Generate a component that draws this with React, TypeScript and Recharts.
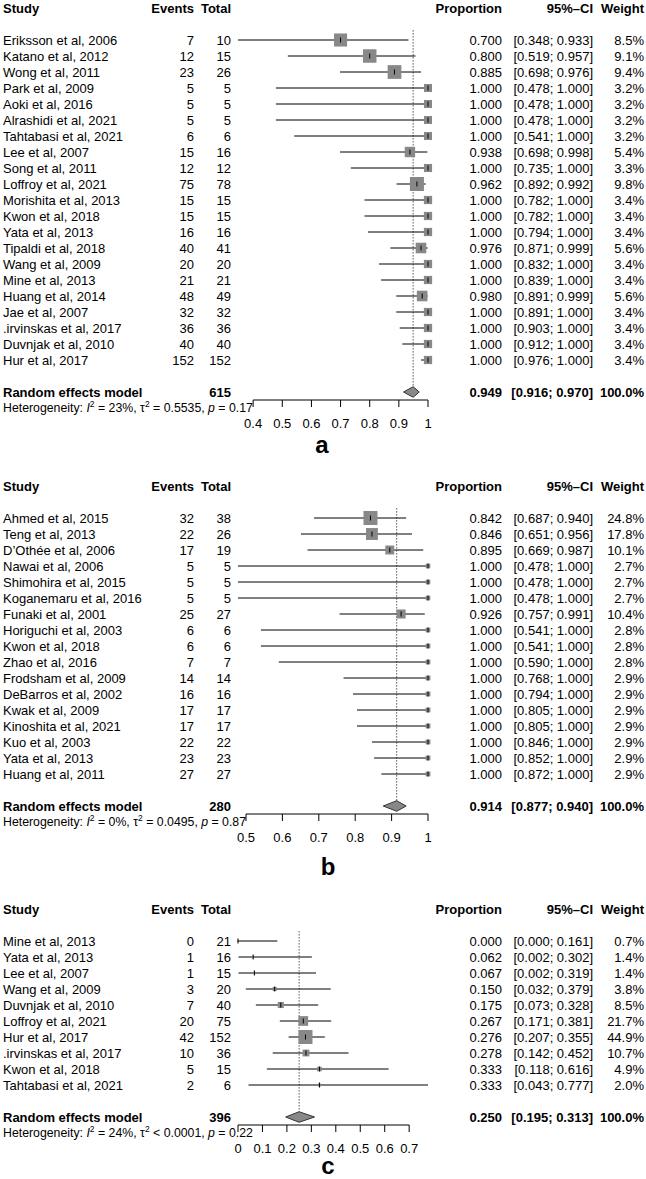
import React from 'react';
import { ScatterChart, Scatter, XAxis, YAxis, ReferenceLine, ReferenceArea } from 'recharts';

const FONT = '"Liberation Sans", Arial, Helvetica, sans-serif';
const ROW = 16;
const PLOT_LEFT = 238;
const PLOT_RIGHT = 428;
const WIDTH = 646;
const AXIS_H = 44;
const MAX_SQ = 14;
const COL = { study: 3, events: 194, total: 231, prop: 502, ci: 593, weight: 644 };
const SQ_FILL = '#888888';

// ---------- Panel a ----------
const studiesA = [
  'Eriksson et al, 2006', 'Katano et al, 2012', 'Wong et al, 2011', 'Park et al, 2009', 'Aoki et al, 2016',
  'Alrashidi et al, 2021', 'Tahtabasi et al, 2021', 'Lee et al, 2007', 'Song et al, 2011', 'Loffroy et al, 2021',
  'Morishita et al, 2013', 'Kwon et al, 2018', 'Yata et al, 2013', 'Tipaldi et al, 2018', 'Wang et al, 2009',
  'Mine et al, 2013', 'Huang et al, 2014', 'Jae et al, 2007', '.irvinskas et al, 2017', 'Duvnjak et al, 2010',
  'Hur et al, 2017',
];
const eventsA = [7, 12, 23, 5, 5, 5, 6, 15, 12, 75, 15, 15, 16, 40, 20, 21, 48, 32, 36, 40, 152];
const totalsA = [10, 15, 26, 5, 5, 5, 6, 16, 12, 78, 15, 15, 16, 41, 20, 21, 49, 32, 36, 40, 152];
const propA = [0.7, 0.8, 0.885, 1, 1, 1, 1, 0.938, 1, 0.962, 1, 1, 1, 0.976, 1, 1, 0.98, 1, 1, 1, 1];
const lowerA = [0.348, 0.519, 0.698, 0.478, 0.478, 0.478, 0.541, 0.698, 0.735, 0.892, 0.782, 0.782, 0.794, 0.871, 0.832, 0.839, 0.891, 0.891, 0.903, 0.912, 0.976];
const upperA = [0.933, 0.957, 0.976, 1, 1, 1, 1, 0.998, 1, 0.992, 1, 1, 1, 0.999, 1, 1, 0.999, 1, 1, 1, 1];
const weightA = [8.5, 9.1, 9.4, 3.2, 3.2, 3.2, 3.2, 5.4, 3.3, 9.8, 3.4, 3.4, 3.4, 5.6, 3.4, 3.4, 5.6, 3.4, 3.4, 3.4, 3.4];
const randomA = [615, 0.949, 0.916, 0.97];
const hetA = ['23%', '= 0.5535', '= 0.17'];
const ticksA = [0.4, 0.5, 0.6, 0.7, 0.8, 0.9, 1];

// ---------- Panel b ----------
const studiesB = [
  'Ahmed et al, 2015', 'Teng et al, 2013', 'D\u2019Oth\u00e9e et al, 2006', 'Nawai et al, 2006', 'Shimohira et al, 2015',
  'Koganemaru et al, 2016', 'Funaki et al, 2001', 'Horiguchi et al, 2003', 'Kwon et al, 2018', 'Zhao et al, 2016',
  'Frodsham et al, 2009', 'DeBarros et al, 2002', 'Kwak et al, 2009', 'Kinoshita et al, 2021', 'Kuo et al, 2003',
  'Yata et al, 2013', 'Huang et al, 2011',
];
const eventsB = [32, 22, 17, 5, 5, 5, 25, 6, 6, 7, 14, 16, 17, 17, 22, 23, 27];
const totalsB = [38, 26, 19, 5, 5, 5, 27, 6, 6, 7, 14, 16, 17, 17, 22, 23, 27];
const propB = [0.842, 0.846, 0.895, 1, 1, 1, 0.926, 1, 1, 1, 1, 1, 1, 1, 1, 1, 1];
const lowerB = [0.687, 0.651, 0.669, 0.478, 0.478, 0.478, 0.757, 0.541, 0.541, 0.59, 0.768, 0.794, 0.805, 0.805, 0.846, 0.852, 0.872];
const upperB = [0.94, 0.956, 0.987, 1, 1, 1, 0.991, 1, 1, 1, 1, 1, 1, 1, 1, 1, 1];
const weightB = [24.8, 17.8, 10.1, 2.7, 2.7, 2.7, 10.4, 2.8, 2.8, 2.8, 2.9, 2.9, 2.9, 2.9, 2.9, 2.9, 2.9];
const randomB = [280, 0.914, 0.877, 0.94];
const hetB = ['0%', '= 0.0495', '= 0.87'];
const ticksB = [0.5, 0.6, 0.7, 0.8, 0.9, 1];

// ---------- Panel c ----------
const studiesC = [
  'Mine et al, 2013', 'Yata et al, 2013', 'Lee et al, 2007', 'Wang et al, 2009', 'Duvnjak et al, 2010',
  'Loffroy et al, 2021', 'Hur et al, 2017', '.irvinskas et al, 2017', 'Kwon et al, 2018', 'Tahtabasi et al, 2021',
];
const eventsC = [0, 1, 1, 3, 7, 20, 42, 10, 5, 2];
const totalsC = [21, 16, 15, 20, 40, 75, 152, 36, 15, 6];
const propC = [0, 0.062, 0.067, 0.15, 0.175, 0.267, 0.276, 0.278, 0.333, 0.333];
const lowerC = [0, 0.002, 0.002, 0.032, 0.073, 0.171, 0.207, 0.142, 0.118, 0.043];
const upperC = [0.161, 0.302, 0.319, 0.379, 0.328, 0.381, 0.355, 0.452, 0.616, 0.777];
const weightC = [0.7, 1.4, 1.4, 3.8, 8.5, 21.7, 44.9, 10.7, 4.9, 2.0];
const randomC = [396, 0.25, 0.195, 0.313];
const hetC = ['24%', '< 0.0001', '= 0.22'];
const ticksC = [0, 0.1, 0.2, 0.3, 0.4, 0.5, 0.6, 0.7];

type PanelDef = {
  studies: string[]; events: number[]; totals: number[]; prop: number[];
  lower: number[]; upper: number[]; weight: number[]; random: number[];
  het: string[]; ticks: number[]; firstY: number; letter: string; letterX: number; letterY: number;
};

const ci = (lo: number, hi: number) => `[${lo.toFixed(3)}; ${hi.toFixed(3)}]`;

const renderTextRow = (props: any) => {
  const { cy, payload } = props;
  const common = {
    y: cy, dy: '0.36em', fontSize: 13, fontFamily: FONT, fill: '#000',
    fontWeight: payload.bold ? 'bold' : 'normal',
  } as any;
  return (
    <g>
      <text {...common} x={COL.study} textAnchor="start">{payload.study}</text>
      <text {...common} x={COL.events} textAnchor="end">{payload.events}</text>
      <text {...common} x={COL.total} textAnchor="end">{payload.total}</text>
      <text {...common} x={COL.prop} textAnchor="end">{payload.prop}</text>
      <text {...common} x={COL.ci} textAnchor="end">{payload.ci}</text>
      <text {...common} x={COL.weight} textAnchor="end">{payload.weight}</text>
    </g>
  );
};

function ForestPanel({ d }: { d: PanelDef }) {
  const n = d.studies.length;
  const reRow = n + 1;
  const yMin = -2.5;
  const yMax = reRow + 0.5;
  const plotH = (yMax - yMin) * ROW;
  const top = d.firstY + yMin * ROW;
  const xMin = Math.min(...d.lower);
  const xMax = Math.max(...d.upper);
  const wMax = Math.max(...d.weight);
  const [reTotal, reEst, reLo, reHi] = d.random;

  const squares = d.prop.map((v, i) => ({ x: v, y: i, w: d.weight[i] }));
  const rows = [
    { x: xMin, y: -2, bold: true, study: 'Study', events: 'Events', total: 'Total', prop: 'Proportion', ci: '95%\u2013CI', weight: 'Weight' },
    ...d.studies.map((s, i) => ({
      x: xMin, y: i, bold: false, study: s, events: String(d.events[i]), total: String(d.totals[i]),
      prop: d.prop[i].toFixed(3), ci: ci(d.lower[i], d.upper[i]), weight: d.weight[i].toFixed(1) + '%',
    })),
    { x: xMin, y: reRow, bold: true, study: 'Random effects model', events: '', total: String(reTotal), prop: reEst.toFixed(3), ci: ci(reLo, reHi), weight: '100.0%' },
  ];

  const renderSquare = (props: any) => {
    const { cx, cy, payload } = props;
    const s = MAX_SQ * Math.sqrt(payload.w / wMax);
    return (
      <g>
        <rect x={cx - s / 2} y={cy - s / 2} width={s} height={s} fill={SQ_FILL} />
        <line x1={cx} x2={cx} y1={cy - 2.5} y2={cy + 2.5} stroke="#000" strokeWidth={1} />
      </g>
    );
  };

  const renderDiamond = (props: any) => {
    const { x, y, width, height } = props;
    const ex = x + (width * (reEst - reLo)) / (reHi - reLo);
    const my = y + height / 2;
    const pts = `${x},${my} ${ex},${y} ${x + width},${my} ${ex},${y + height}`;
    return <polygon points={pts} fill={SQ_FILL} stroke="#333" strokeWidth={1} />;
  };

  const chartH = plotH + AXIS_H;
  return (
    <div style={{ position: 'absolute', left: 0, top, width: WIDTH, height: chartH }}>
      <ScatterChart
        width={WIDTH}
        height={chartH}
        margin={{ top: 0, right: WIDTH - PLOT_RIGHT, bottom: 0, left: PLOT_LEFT }}
      >
        <XAxis
          type="number"
          dataKey="x"
          domain={[xMin, xMax]}
          ticks={d.ticks}
          interval={0}
          axisLine={false}
          tickLine={{ stroke: '#000' }}
          tickSize={7}
          tickMargin={12}
          height={AXIS_H}
          tick={{ fill: '#000', fontSize: 13, fontFamily: FONT }}
        />
        <YAxis type="number" dataKey="y" domain={[yMin, yMax]} reversed hide />
        <ReferenceLine
          segment={[{ x: d.ticks[0], y: yMax }, { x: d.ticks[d.ticks.length - 1], y: yMax }]}
          stroke="#000"
          strokeWidth={1}
          ifOverflow="visible"
        />
        <ReferenceLine
          segment={[{ x: reEst, y: -0.6 }, { x: reEst, y: reRow - 0.33 }]}
          stroke="#000"
          strokeWidth={1}
          strokeDasharray="1 2"
          ifOverflow="visible"
        />
        <ReferenceArea
          x1={reLo}
          x2={reHi}
          y1={reRow - 0.33}
          y2={reRow + 0.33}
          ifOverflow="visible"
          shape={renderDiamond}
        />
        <Scatter data={squares} shape={renderSquare} isAnimationActive={false} />
        {d.lower.map((lo, i) => (
          <ReferenceLine
            key={i}
            segment={[{ x: lo, y: i }, { x: d.upper[i], y: i }]}
            stroke="#000"
            strokeWidth={1}
            ifOverflow="visible"
          />
        ))}
        <Scatter data={rows} shape={renderTextRow} isAnimationActive={false} />
      </ScatterChart>
    </div>
  );
}

function HetText({ d }: { d: PanelDef }) {
  const n = d.studies.length;
  const y = d.firstY + (n + 2) * ROW;
  const [i2, tau2, p] = d.het;
  return (
    <g fontFamily={FONT} fill="#000">
      <text x={3} y={y} dy="0.36em" fontSize={12.3}>
        {'Heterogeneity: '}
        <tspan fontStyle="italic">I</tspan>
        <tspan dy={-5} fontSize={8.5}>2</tspan>
        <tspan dy={5}>{` = ${i2}, \u03c4`}</tspan>
        <tspan dy={-5} fontSize={8.5}>2</tspan>
        <tspan dy={5}>{` ${tau2}, `}</tspan>
        <tspan fontStyle="italic">p</tspan>
        <tspan>{` ${p}`}</tspan>
      </text>
      <text x={d.letterX} y={d.letterY} fontSize={24} fontWeight="bold" textAnchor="middle">
        {d.letter}
      </text>
    </g>
  );
}

const panels: PanelDef[] = [
  { studies: studiesA, events: eventsA, totals: totalsA, prop: propA, lower: lowerA, upper: upperA, weight: weightA, random: randomA, het: hetA, ticks: ticksA, firstY: 39.5, letter: 'a', letterX: 322, letterY: 453 },
  { studies: studiesB, events: eventsB, totals: totalsB, prop: propB, lower: lowerB, upper: upperB, weight: weightB, random: randomB, het: hetB, ticks: ticksB, firstY: 517.5, letter: 'b', letterX: 328, letterY: 875 },
  { studies: studiesC, events: eventsC, totals: totalsC, prop: propC, lower: lowerC, upper: upperC, weight: weightC, random: randomC, het: hetC, ticks: ticksC, firstY: 940.5, letter: 'c', letterX: 328, letterY: 1174 },
];

export default function App() {
  return (
    <div style={{ position: 'absolute', left: 0, top: 0, width: WIDTH, height: 1179, background: '#fff', fontFamily: FONT, overflow: 'hidden' }}>
      {panels.map((d) => (
        <ForestPanel key={d.letter} d={d} />
      ))}
      <svg width={WIDTH} height={1179} style={{ position: 'absolute', left: 0, top: 0, pointerEvents: 'none' }}>
        {panels.map((d) => (
          <HetText key={d.letter} d={d} />
        ))}
      </svg>
    </div>
  );
}
